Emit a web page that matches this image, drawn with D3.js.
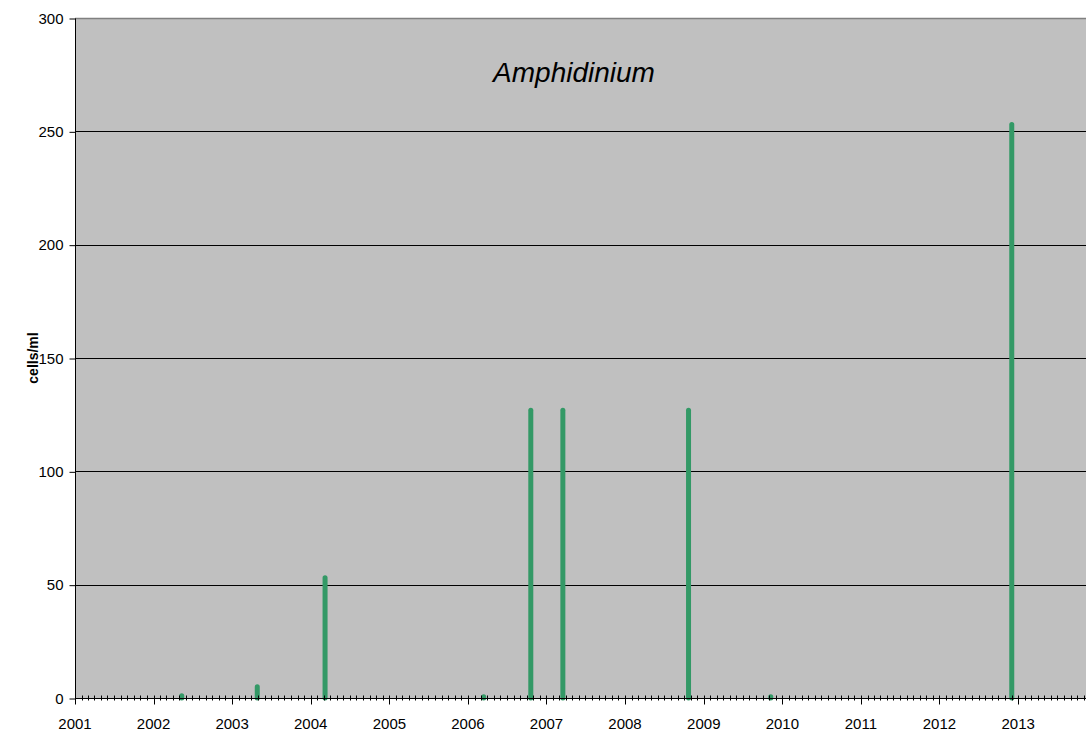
<!DOCTYPE html>
<html>
<head>
<meta charset="utf-8">
<script src="https://cdn.jsdelivr.net/npm/d3@7"></script>
<style>
  body { margin: 0; background: #fff; }
  svg { display: block; font-family: "Liberation Sans", Arial, sans-serif; }
</style>
</head>
<body>
<div id="chart"></div>
<script>
// sample dates and counts (cells/ml)
const sampleDates = [
  '2002-05-12', '2003-04-28', '2004-03-08', '2006-03-15', '2006-10-20',
  '2007-03-18', '2008-10-22', '2009-11-08', '2012-12-02'
];
const cellCounts = [1, 5, 53, 0.5, 127, 127, 127, 0.5, 253];
const yTicks = [0, 50, 100, 150, 200, 250, 300];
const yearTicks = d3.range(2001, 2014);

const width = 1086;
const height = 732;
const margin = {top: 18, right: 0, bottom: 34, left: 75};

const parse = d3.timeParse('%Y-%m-%d');
const data = sampleDates.map((d, i) => ({date: parse(d), value: cellCounts[i]}));

const svg = d3.select('#chart')
  .append('svg')
  .attr('width', width)
  .attr('height', height);

const x = d3.scaleTime()
  .domain([new Date(2001, 0, 1), new Date(2013, 10, 12)])
  .range([margin.left, width - margin.right]);

const y = d3.scaleLinear()
  .domain([0, 300])
  .range([height - margin.bottom, margin.top]);

// plot area
svg.append('rect')
  .attr('x', margin.left)
  .attr('y', margin.top)
  .attr('width', width - margin.left - margin.right)
  .attr('height', height - margin.top - margin.bottom)
  .style('fill', '#c0c0c0');

// top border
svg.append('line')
  .attr('x1', margin.left).attr('x2', width)
  .attr('y1', margin.top + 0.5).attr('y2', margin.top + 0.5)
  .style('stroke', '#808080')
  .style('stroke-width', 1.5);

// gridlines
svg.append('g')
  .selectAll('line')
  .data(yTicks.filter(d => d > 0 && d < 300))
  .enter().append('line')
    .attr('x1', margin.left)
    .attr('x2', width)
    .attr('y1', d => Math.round(y(d)) + 0.5)
    .attr('y2', d => Math.round(y(d)) + 0.5)
    .style('stroke', '#000')
    .style('stroke-width', 1);

// bars as thick lines
svg.append('g')
  .selectAll('line')
  .data(data)
  .enter().append('line')
    .attr('x1', d => x(d.date))
    .attr('x2', d => x(d.date))
    .attr('y1', y(0))
    .attr('y2', d => y(d.value))
    .style('stroke', '#339966')
    .style('stroke-width', 5)
    .style('stroke-linecap', 'round');

// y axis
const yAxis = d3.axisLeft(y)
  .tickValues(yTicks)
  .tickSize(6)
  .tickPadding(6);

const gy = svg.append('g')
  .attr('transform', `translate(${margin.left + 0.5},0.5)`)
  .call(yAxis);
gy.select('.domain').attr('d', `M0,${y(300)}V${y(0)}`);
gy.selectAll('text').style('font-size', '15px').style('fill', '#000');

// x axis: monthly minor ticks, yearly majors
const minor = d3.timeMonth.range(new Date(2001, 0, 1), x.domain()[1])
  .filter(d => d.getMonth() !== 0);
const gx = svg.append('g')
  .attr('transform', `translate(0,${Math.round(y(0)) + 0.5})`);

gx.append('line')
  .attr('x1', margin.left).attr('x2', width)
  .style('stroke', '#000');

gx.selectAll('.minor')
  .data(minor)
  .enter().append('line')
    .attr('class', 'minor')
    .attr('x1', d => Math.round(x(d)) + 0.5)
    .attr('x2', d => Math.round(x(d)) + 0.5)
    .attr('y1', -3).attr('y2', 2)
    .style('stroke', '#000');

gx.selectAll('.major')
  .data(yearTicks)
  .enter().append('line')
    .attr('class', 'major')
    .attr('x1', d => Math.round(x(new Date(d, 0, 1))) + 0.5)
    .attr('x2', d => Math.round(x(new Date(d, 0, 1))) + 0.5)
    .attr('y1', -3).attr('y2', 6)
    .style('stroke', '#000');

gx.selectAll('text')
  .data(yearTicks)
  .enter().append('text')
    .attr('x', d => x(new Date(d, 0, 1)))
    .attr('y', 30)
    .attr('text-anchor', 'middle')
    .style('font-size', '15px')
    .text(d => d);

// y label
svg.append('text')
  .attr('transform', `translate(38,${(y(0) + y(300)) / 2}) rotate(-90)`)
  .attr('text-anchor', 'middle')
  .style('font-size', '14px')
  .style('font-weight', 'bold')
  .text('cells/ml');

// title
svg.append('text')
  .attr('x', 574)
  .attr('y', 82)
  .attr('text-anchor', 'middle')
  .style('font-size', '28px')
  .style('font-style', 'italic')
  .text('Amphidinium');
</script>
</body>
</html>
